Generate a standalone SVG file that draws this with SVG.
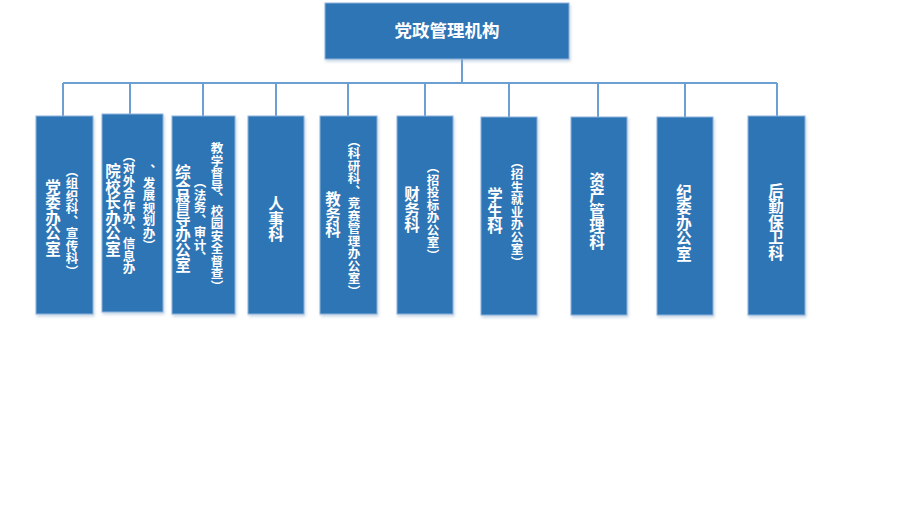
<svg xmlns="http://www.w3.org/2000/svg" width="913" height="524" viewBox="0 0 913 524">
<defs>
<filter id="sh" x="-20%" y="-20%" width="140%" height="140%">
<feDropShadow dx="1" dy="2" stdDeviation="1.5" flood-color="#8aa9cc" flood-opacity="0.5"/>
</filter>
<style>
.box{fill:#2E75B6;stroke:#8FB4DC;stroke-width:1;filter:url(#sh)}
.ln{fill:none;stroke:#6E9FD2;stroke-width:2}
.t{font-family:"Noto Sans CJK SC","Noto Sans",sans-serif;font-weight:bold;fill:#ffffff}
.v{writing-mode:vertical-lr;text-anchor:middle}
.m{font-size:15.5px}
.s{font-size:12.5px}
</style>
</defs>
<rect width="913" height="524" fill="#ffffff"/>
<g id="connectors">
<path class="ln" d="M462 59V83M63 83H777M63 83V116M130 83V114M203 83V116M276 83V116M348 83V116M425 83V116M509 83V117M598 83V117M685 83V117M777 83V116"/>
</g>
<g id="top">
<rect class="box" x="325" y="3" width="244" height="56"/>
<text class="t" x="447" y="37" font-size="17.5" text-anchor="middle">党政管理机构</text>
</g>
<g id="n1">
<rect class="box" x="36" y="116" width="57" height="198"/>
<text class="t v m" x="53" y="218">党委办公室</text>
<text class="t v s" x="72" y="221">（组织科、宣传科）</text>
</g>
<g id="n2">
<rect class="box" x="102" y="114" width="61" height="198"/>
<text class="t v m" x="113" y="210">院校长办公室</text>
<text class="t v s" x="129" y="212">（对外合作办、信息办</text>
<text class="t v s" x="149" y="208">、发展规划办）</text>
</g>
<g id="n3">
<rect class="box" x="172" y="116" width="63" height="198"/>
<text class="t v m" x="183" y="219">综合督导办公室</text>
<text class="t v s" x="200" y="220">（法务、审计、</text>
<text class="t v s" x="217" y="217">教学督导、校园安全督查）</text>
</g>
<g id="n4">
<rect class="box" x="248" y="116" width="56" height="198"/>
<text class="t v m" x="276" y="219">人事科</text>
</g>
<g id="n5">
<rect class="box" x="320" y="116" width="57" height="198"/>
<text class="t v m" x="333" y="215">教务科</text>
<text class="t v s" x="354" y="216">（科研科、竞赛管理办公室）</text>
</g>
<g id="n6">
<rect class="box" x="397" y="116" width="56" height="198"/>
<text class="t v m" x="412" y="210">财务科</text>
<text class="t v s" x="433" y="211">（招投标办公室）</text>
</g>
<g id="n7">
<rect class="box" x="481" y="117" width="56" height="198"/>
<text class="t v m" x="495" y="211">学生科</text>
<text class="t v s" x="517" y="212">（招生就业办公室）</text>
</g>
<g id="n8">
<rect class="box" x="571" y="117" width="56" height="198"/>
<text class="t v m" x="597" y="211">资产管理科</text>
</g>
<g id="n9">
<rect class="box" x="657" y="117" width="56" height="198"/>
<text class="t v m" x="684" y="223">纪委办公室</text>
</g>
<g id="n10">
<rect class="box" x="748" y="116" width="57" height="199"/>
<text class="t v m" x="776" y="222">后勤保卫科</text>
</g>
</svg>
